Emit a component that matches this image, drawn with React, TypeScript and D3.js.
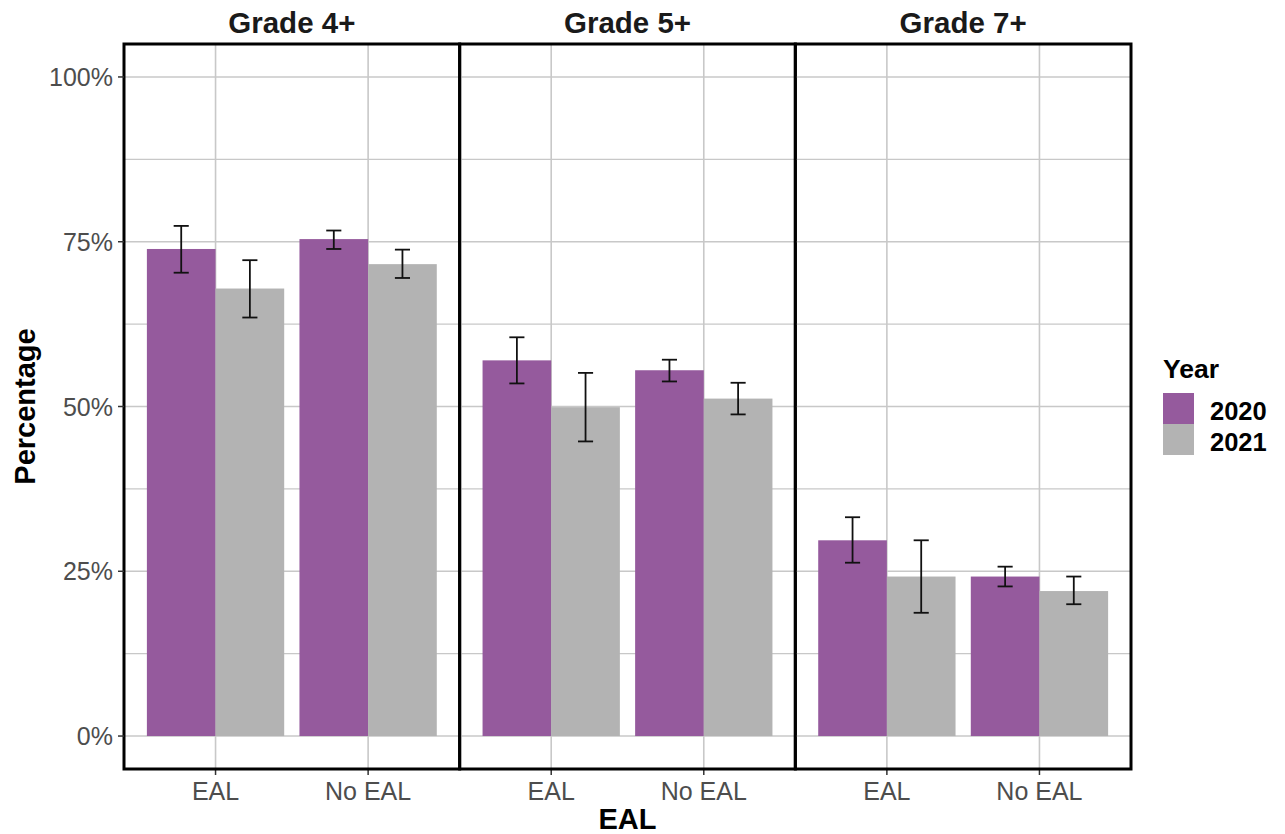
import React from "react";
import * as d3 from "d3";

const grades = ["Grade 4+", "Grade 5+", "Grade 7+"];
const ealGroups = ["EAL", "No EAL"];
const years = ["2020", "2021"];
const yTicks = [0, 0.25, 0.5, 0.75, 1];
const yMinor = [0.125, 0.375, 0.625, 0.875];

// order: grade x eal
const values2020 = [73.9, 75.4, 57.0, 55.5, 29.7, 24.2];
const lower2020 = [70.3, 73.9, 53.5, 53.8, 26.3, 22.7];
const upper2020 = [77.4, 76.7, 60.5, 57.1, 33.2, 25.7];
const values2021 = [67.9, 71.6, 49.9, 51.2, 24.2, 22.0];
const lower2021 = [63.5, 69.5, 44.7, 48.8, 18.7, 20.0];
const upper2021 = [72.2, 73.8, 55.1, 53.6, 29.7, 24.2];

const colors = ["#955A9D", "#B3B3B3"];
const FONT = "'Liberation Sans', Arial, sans-serif";

export default function App() {
  const W = 1285, H = 834;
  const left = 124, right = 1131, top = 44, bottom = 769;

  const panelScale = d3.scaleBand<string>().domain(grades).range([left, right]).paddingInner(0).paddingOuter(0);
  const y = d3.scaleLinear().domain([-0.05, 1.05]).range([bottom, top]);
  const color = d3.scaleOrdinal<string, string>().domain(years).range(colors);

  const series = [
    { year: "2020", v: values2020, lo: lower2020, hi: upper2020 },
    { year: "2021", v: values2021, lo: lower2021, hi: upper2021 },
  ];

  const panels = grades.map((g, gi) => {
    const px0 = panelScale(g)!;
    const px1 = px0 + panelScale.bandwidth();
    const x = d3.scalePoint<string>().domain(ealGroups).range([px0, px1]).padding(0.6);
    const step = x.step();
    const inner = d3.scaleBand<string>().domain(years).range([-0.45 * step, 0.45 * step]).padding(0);
    const capHalf = inner.bandwidth() * 0.11;
    return (
      <g key={g}>
        {yMinor.map((t) => (
          <line key={"mn" + t} x1={px0} x2={px1} y1={y(t)} y2={y(t)} stroke="#C8C8C8" strokeWidth={1.4} />
        ))}
        {yTicks.map((t) => (
          <line key={"mj" + t} x1={px0} x2={px1} y1={y(t)} y2={y(t)} stroke="#C8C8C8" strokeWidth={1.6} />
        ))}
        {ealGroups.map((c) => (
          <line key={"v" + c} x1={x(c)} x2={x(c)} y1={top} y2={bottom} stroke="#C8C8C8" strokeWidth={1.6} />
        ))}
        {series.map((s) =>
          ealGroups.map((c, ci) => {
            const idx = gi * 2 + ci;
            const bx = x(c)! + inner(s.year)!;
            return (
              <rect key={s.year + c} x={bx} width={inner.bandwidth()} y={y(s.v[idx] / 100)}
                height={y(0) - y(s.v[idx] / 100)} fill={color(s.year)} />
            );
          })
        )}
        {series.map((s) =>
          ealGroups.map((c, ci) => {
            const idx = gi * 2 + ci;
            const cx = x(c)! + inner(s.year)! + inner.bandwidth() / 2;
            const yl = y(s.lo[idx] / 100), yh = y(s.hi[idx] / 100);
            return (
              <g key={"e" + s.year + c} stroke="#111" strokeWidth={1.8}>
                <line x1={cx} x2={cx} y1={yl} y2={yh} />
                <line x1={cx - capHalf} x2={cx + capHalf} y1={yl} y2={yl} />
                <line x1={cx - capHalf} x2={cx + capHalf} y1={yh} y2={yh} />
              </g>
            );
          })
        )}
        {ealGroups.map((c) => (
          <g key={"xt" + c}>
            <line x1={x(c)} x2={x(c)} y1={bottom} y2={bottom + 6} stroke="#333" strokeWidth={1.5} />
            <text x={x(c)} y={800} textAnchor="middle" fontSize={25} fill="#4D4D4D" fontFamily={FONT}>{c}</text>
          </g>
        ))}
        <rect x={px0} y={top} width={px1 - px0} height={bottom - top} fill="none" stroke="#000" strokeWidth={3} />
        <text x={(px0 + px1) / 2} y={33} textAnchor="middle" fontSize={29.5} fontWeight="bold" fill="#1A1A1A" fontFamily={FONT}>{g}</text>
      </g>
    );
  });

  return (
    <svg width={W} height={H} style={{ position: "absolute", left: 0, top: 0, background: "#fff" }} fontFamily={FONT}>
      <rect width={W} height={H} fill="#fff" />
      {panels}
      {yTicks.map((t) => (
        <g key={"yt" + t}>
          <line x1={left - 6} x2={left} y1={y(t)} y2={y(t)} stroke="#333" strokeWidth={1.5} />
          <text x={left - 11} y={y(t) + 9} textAnchor="end" fontSize={25} fill="#4D4D4D">{d3.format(".0%")(t)}</text>
        </g>
      ))}
      <text x={(left + right) / 2} y={829} textAnchor="middle" fontSize={29} fontWeight="bold" fill="#000">EAL</text>
      <text transform={`translate(35,${(top + bottom) / 2}) rotate(-90)`} textAnchor="middle" fontSize={29} fontWeight="bold" fill="#000">Percentage</text>
      <text x={1163} y={378} fontSize={26.5} fontWeight="bold" fill="#000">Year</text>
      {years.map((yr, i) => (
        <g key={"lg" + yr}>
          <rect x={1163} y={393 + i * 31} width={31} height={31} fill={color(yr)} />
          <text x={1210} y={420 + i * 31} fontSize={25.5} fontWeight="bold" fill="#000">{yr}</text>
        </g>
      ))}
    </svg>
  );
}
